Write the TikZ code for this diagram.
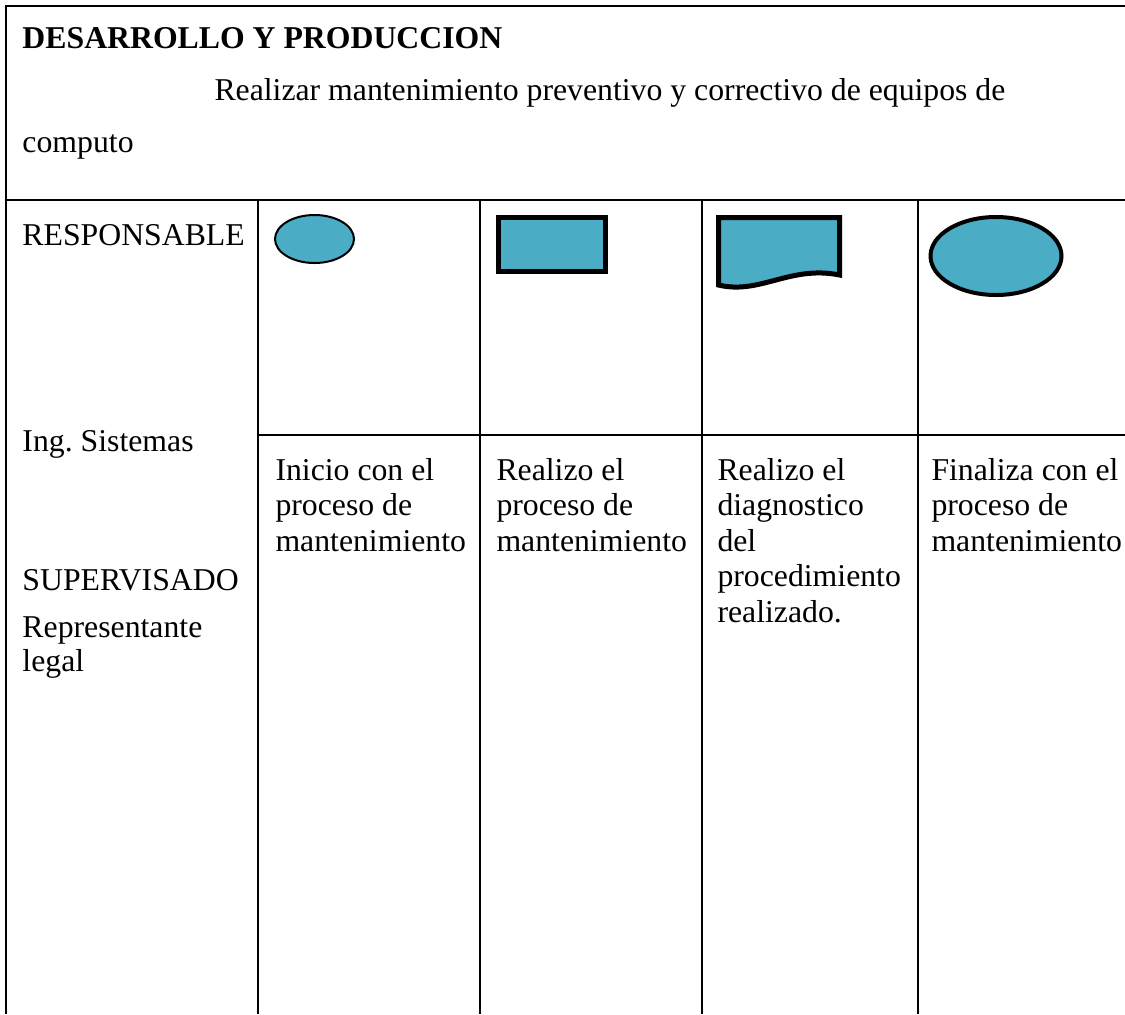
\documentclass[tikz,border=0pt]{standalone}
\usepackage{fontspec}
\setmainfont{Liberation Serif}
\usetikzlibrary{shapes.geometric}
\definecolor{aqua}{RGB}{75,172,198}
\frenchspacing

\begin{document}
\begin{tikzpicture}[x=0.4pt,y=-0.4pt,
	txt/.style={anchor=base west,inner sep=0pt,font=\fontsize{12.7pt}{14pt}\selectfont},
	txtbold/.style={txt,font=\fontsize{12.7pt}{14pt}\selectfont\bfseries},
	rule/.style={line width=1pt},
	sym/.style={draw,fill=aqua,inner sep=0pt,outer sep=0pt}]
	\useasboundingbox (0,0) rectangle (1125,1014);
	\draw[rule] (1125,6) -- (6,6) -- (6,1014);
	\draw[rule] (6,200) -- (1125,200);
	\draw[rule] (258,200) -- (258,1014);
	\draw[rule] (480,200) -- (480,1014);
	\draw[rule] (702,200) -- (702,1014);
	\draw[rule] (918,200) -- (918,1014);
	\draw[rule] (258,435) -- (1125,435);
	\node[txtbold] at (22,48) (titulo) {DESARROLLO Y PRODUCCION};
	\node[txt] at (214,100) (objetivo) {Realizar mantenimiento preventivo y correctivo de equipos de};
	\node[txt] at (22,152) (objetivob) {computo};
	\node[txt] at (22,245) (resp) {RESPONSABLE};
	\node[txt] at (22,451) (ing) {Ing. Sistemas};
	\node[txt] at (22,590) (sup) {SUPERVISADO};
	\node[txt] at (22,637) (rep) {Representante};
	\node[txt] at (22,671) (repb) {legal};
	\node[sym,ellipse,line width=0.8pt,minimum width=31.6pt,minimum height=19.2pt] at (314.5,239) (inicio) {};
	\node[sym,rectangle,line width=2pt,minimum width=42.8pt,minimum height=21.6pt] at (552,244.5) (proceso) {};
	\filldraw[fill=aqua,line width=2pt] (718.5,285) -- (718.5,217.5) -- (839.5,217.5) -- (839.5,275)
	.. controls (790,265) and (760,295) .. cycle;
	\node[sym,ellipse,line width=1.6pt,minimum width=52.4pt,minimum height=31.2pt] at (996,256) (fin) {};
	\node[txt] at (275,480) (inia) {Inicio con el};
	\node[txt] at (275,515.5) (inib) {proceso de};
	\node[txt] at (275,551) (inic) {mantenimiento};
	\node[txt] at (496,480) (proa) {Realizo el};
	\node[txt] at (496,515.5) (prob) {proceso de};
	\node[txt] at (496,551) (proc) {mantenimiento};
	\node[txt] at (717,480) (diaa) {Realizo el};
	\node[txt] at (717,515.5) (diab) {diagnostico};
	\node[txt] at (717,551) (diac) {del};
	\node[txt] at (717,586.5) (diad) {procedimiento};
	\node[txt] at (717,622) (diae) {realizado.};
	\node[txt] at (931,480) (fina) {Finaliza con el};
	\node[txt] at (931,515.5) (finb) {proceso de};
	\node[txt] at (931,551) (finc) {mantenimiento};
\end{tikzpicture}
\end{document}
